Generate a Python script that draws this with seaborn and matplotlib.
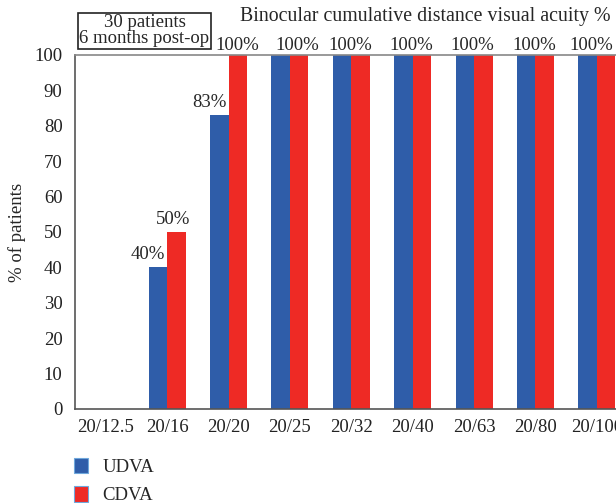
import numpy as np
import pandas as pd
import matplotlib
matplotlib.use('Agg')
import matplotlib.pyplot as plt
import seaborn as sns

categories = ['20/12.5', '20/16', '20/20', '20/25', '20/32', '20/40', '20/63', '20/80', '20/100']
udva = [0, 40, 83, 100, 100, 100, 100, 100, 100]
cdva = [0, 50, 100, 100, 100, 100, 100, 100, 100]
series = ['UDVA', 'CDVA']
colors = ['#2F5DA9', '#EE2A25']

df = pd.DataFrame({
    'acuity': categories * 2,
    'pct': udva + cdva,
    'series': ['UDVA'] * len(categories) + ['CDVA'] * len(categories),
})

sns.set_style('white')
plt.rcParams['font.family'] = ['Liberation Serif', 'DejaVu Serif']
fs = 13.5

fig = plt.figure(figsize=(6.16, 5.03), dpi=100)
ax = fig.add_axes([0.1218, 0.1869, 0.897, 0.7038])

sns.barplot(data=df, x='acuity', y='pct', hue='series', hue_order=series,
            palette=colors, width=0.6, saturation=1, linewidth=0, ax=ax, legend=False)

ax.set_ylim(0, 100)
ax.set_yticks(np.arange(0, 101, 10))
ax.set_xlim(-0.5, len(categories) - 0.5)
ax.set_xlabel('')
ax.set_ylabel('% of patients', fontsize=fs, labelpad=6)
ax.tick_params(axis='both', length=0, labelsize=fs, colors='#222222')
ax.tick_params(axis='y', pad=9)
ax.tick_params(axis='x', pad=7)
for side in ['left', 'bottom']:
    ax.spines[side].set_color('#555555')
    ax.spines[side].set_linewidth(1.2)
ax.spines['top'].set_color('#888888')
ax.spines['top'].set_linewidth(1.2)
ax.spines['right'].set_visible(False)

# value labels (Excel-style placement)
bw = 0.3
for i, v in enumerate(udva):
    if 0 < v < 100:
        ax.annotate(f'{v}%', (i - bw / 2, v), xytext=(-7, 3), textcoords='offset points',
                    ha='center', va='bottom', fontsize=fs)
for i, v in enumerate(cdva):
    if v == 0:
        continue
    if v < 100:
        ax.annotate(f'{v}%', (i + bw / 2, v), xytext=(-2, 3), textcoords='offset points',
                    ha='center', va='bottom', fontsize=fs)
    elif udva[i] < 100:
        ax.annotate(f'{v}%', (i + bw / 2, v), xytext=(0, 1), textcoords='offset points',
                    ha='center', va='bottom', fontsize=fs)
    else:
        shift = 5 if i == 3 else (-4 if i == len(categories) - 1 else -1)
        ax.annotate(f'{v}%', (i, v), xytext=(shift, 1), textcoords='offset points',
                    ha='center', va='bottom', fontsize=fs)

fig.text(0.69, 0.968, 'Binocular cumulative distance visual acuity %', ha='center',
         va='center', fontsize=14.3)
fig.text(0.2346, 0.939, '30 patients\n6 months post-op', ha='center', va='center',
         fontsize=fs, linespacing=0.9,
         bbox=dict(boxstyle='square,pad=0.08', fc='white', ec='#222222', lw=1.2))

handles = [plt.Rectangle((0, 0), 1, 1, fc=c, ec='#6FA8DC', lw=0.8) for c in colors]
fig.legend(handles, series, loc='upper left', bbox_to_anchor=(0.108, 0.105),
           frameon=False, handlelength=0.75, handleheight=0.9, labelspacing=0.55,
           handletextpad=0.75, fontsize=fs, borderaxespad=0)

fig.savefig('out.png', dpi=100)
